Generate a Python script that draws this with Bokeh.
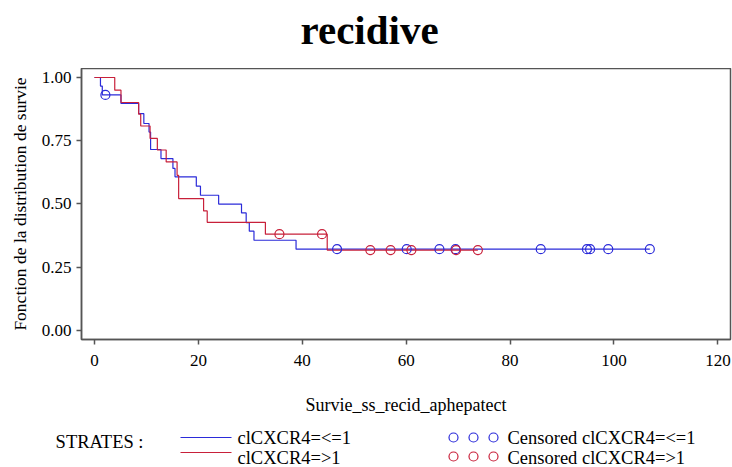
from bokeh.plotting import figure
from bokeh.models import Range1d, FixedTicker
from bokeh.layouts import column
from bokeh.embed import file_html
from bokeh.resources import INLINE
from bokeh.core.properties import value

# ---------------- data ----------------
blue_name = "clCXCR4=<=1"
red_name = "clCXCR4=>1"

blue_event_times = [1.15, 1.5, 5.1, 8.5, 9.5, 10.5, 10.8, 12.8, 15.1, 15.5, 19.6, 20.4,
                    23.9, 28.3, 29.2, 29.8, 30.7, 38.8]
blue_surv = [0.966, 0.931, 0.897, 0.857, 0.818, 0.784, 0.715, 0.679, 0.640, 0.607, 0.570,
             0.534, 0.499, 0.464, 0.426, 0.392, 0.356, 0.3205]
blue_censor_times = [2.1, 46.7, 60.1, 66.4, 69.5, 85.9, 94.8, 95.4, 98.9, 106.9]

red_event_times = [3.9, 5.1, 8.5, 8.9, 10.7, 12.1, 13.8, 15.9, 16.2, 21.0, 21.7, 32.9, 44.8]
red_surv = [0.950, 0.901, 0.855, 0.808, 0.759, 0.713, 0.666, 0.613, 0.521, 0.472, 0.427,
            0.380, 0.317]
red_censor_times = [35.6, 43.8, 53.1, 57.0, 61.0, 69.6, 73.8]

x_ticks = [0, 20, 40, 60, 80, 100, 120]
y_ticks = [0.0, 0.25, 0.50, 0.75, 1.00]
y_tick_labels = ["0.00", "0.25", "0.50", "0.75", "1.00"]

title_text = "recidive"
x_label = "Survie_ss_recid_aphepatect"
y_label = "Fonction de la distribution de survie"
legend_title = "STRATES :"

BLUE = "#2b2bd9"
RED = "#c8203a"
FONT = "Liberation Serif"

W = 732
H_TITLE, H_MAIN, H_LEG = 68, 352, 47
BL, BR = 81, 2          # left / right borders shared by all figures


def step_xy(times, surv, end):
    xs = [0.0] + list(times) + [end]
    ys = [1.0] + list(surv) + [surv[-1]]
    return xs, ys


def surv_at(times, surv, t):
    s = 1.0
    for ti, si in zip(times, surv):
        if ti <= t:
            s = si
    return s


def strip(y_top, h, with_y_axis=False):
    f = figure(width=W, height=h, output_backend="svg", toolbar_location=None,
               x_range=Range1d(BL, W - BR), y_range=Range1d(y_top + h, y_top),
               x_axis_type=None, y_axis_type="linear" if with_y_axis else None,
               min_border_left=BL, min_border_right=BR, min_border_top=0,
               min_border_bottom=0)
    f.outline_line_color = None
    f.xgrid.visible = False
    f.ygrid.visible = False
    return f


# ---------------- title strip (page-pixel coordinates) ----------------
t = strip(0, H_TITLE)
t.text(x=[300], y=[29], text=[title_text], text_font=value(FONT), text_font_size="41px",
       text_font_style="bold", text_baseline="middle", text_align="left",
       text_color="black")

# ---------------- main figure ----------------
p = figure(width=W, height=H_MAIN, output_backend="svg", toolbar_location=None, title=None,
           x_range=Range1d(-2.5, 122.43), y_range=Range1d(-0.0368, 1.0356),
           min_border_left=BL, min_border_right=BR, min_border_top=0,
           min_border_bottom=81)

p.xgrid.visible = False
p.ygrid.visible = False
p.outline_line_color = "#555555"
p.outline_line_width = 1.5

for ax in (p.xaxis[0], p.yaxis[0]):
    ax.axis_line_color = "#555555"
    ax.axis_line_width = 1.5
    ax.major_tick_line_color = "#555555"
    ax.major_tick_line_width = 1.5
    ax.major_tick_in = 0
    ax.major_tick_out = 5
    ax.minor_tick_line_color = None
    ax.major_label_text_font = FONT
    ax.major_label_text_font_size = "17px"
    ax.major_label_text_color = "black"
    ax.axis_label_text_font = FONT
    ax.axis_label_text_font_style = "normal"
    ax.axis_label_text_color = "black"

p.xaxis.axis_label_text_font_size = "18px"
p.yaxis.axis_label_text_font_size = "17.5px"
p.xaxis.ticker = FixedTicker(ticks=x_ticks)
p.yaxis.ticker = FixedTicker(ticks=y_ticks)
p.yaxis.major_label_overrides = {tk: lb for tk, lb in zip(y_ticks, y_tick_labels)}
p.xaxis.axis_label = x_label
p.yaxis.axis_label = y_label
p.xaxis.major_label_standoff = 10
p.xaxis.axis_label_standoff = 26
p.yaxis.major_label_standoff = 5
p.yaxis.axis_label_standoff = 9

bx, by = step_xy(blue_event_times, blue_surv, blue_censor_times[-1])
rxs, rys = step_xy(red_event_times, red_surv, red_censor_times[-1])
p.step(bx, by, mode="after", line_color=BLUE, line_width=1.2)
p.step(rxs, rys, mode="after", line_color=RED, line_width=1.2)

bcy = [surv_at(blue_event_times, blue_surv, tt) for tt in blue_censor_times]
rcy = [surv_at(red_event_times, red_surv, tt) for tt in red_censor_times]
p.scatter(blue_censor_times, bcy, marker="circle", size=9, fill_color=None,
          line_color=BLUE, line_width=1.2)
p.scatter(red_censor_times, rcy, marker="circle", size=9, fill_color=None,
          line_color=RED, line_width=1.2)

# ---------------- legend strip (page-pixel coordinates) ----------------
top = H_TITLE + H_MAIN
leg = strip(top, H_LEG, with_y_axis=True)

# "STRATES :" as the strip's single left tick label, pulled right into place
la = leg.yaxis[0]
la.ticker = FixedTicker(ticks=[441])
la.major_label_overrides = {441: legend_title}
la.axis_line_color = None
la.major_tick_line_color = None
la.minor_tick_line_color = None
la.major_tick_in = 0
la.major_tick_out = 0
la.major_label_standoff = -62
la.major_label_text_font = FONT
la.major_label_text_font_size = "18.5px"
la.major_label_text_color = "black"

r1, r2 = 437, 457
leg.segment(x0=[180], y0=[r1], x1=[231], y1=[r1], line_color=BLUE, line_width=1.2)
leg.segment(x0=[180], y0=[452], x1=[231], y1=[452], line_color=RED, line_width=1.2)
leg.text(x=[237, 237], y=[r1, r2], text=[blue_name, red_name], text_font=value(FONT),
         text_font_size="18.5px", text_baseline="middle", text_color="black")
leg.scatter([453, 473, 493], [r1] * 3, marker="circle", size=9, fill_color=None,
            line_color=BLUE, line_width=1.2)
leg.scatter([453, 473, 493], [456] * 3, marker="circle", size=9, fill_color=None,
            line_color=RED, line_width=1.2)
leg.text(x=[507, 507], y=[r1, r2], text=["Censored " + blue_name, "Censored " + red_name],
         text_font=value(FONT), text_font_size="18.5px", text_baseline="middle",
         text_color="black")

layout = column(t, p, leg, spacing=0)
open("out.html", "w").write(file_html(layout, INLINE))
